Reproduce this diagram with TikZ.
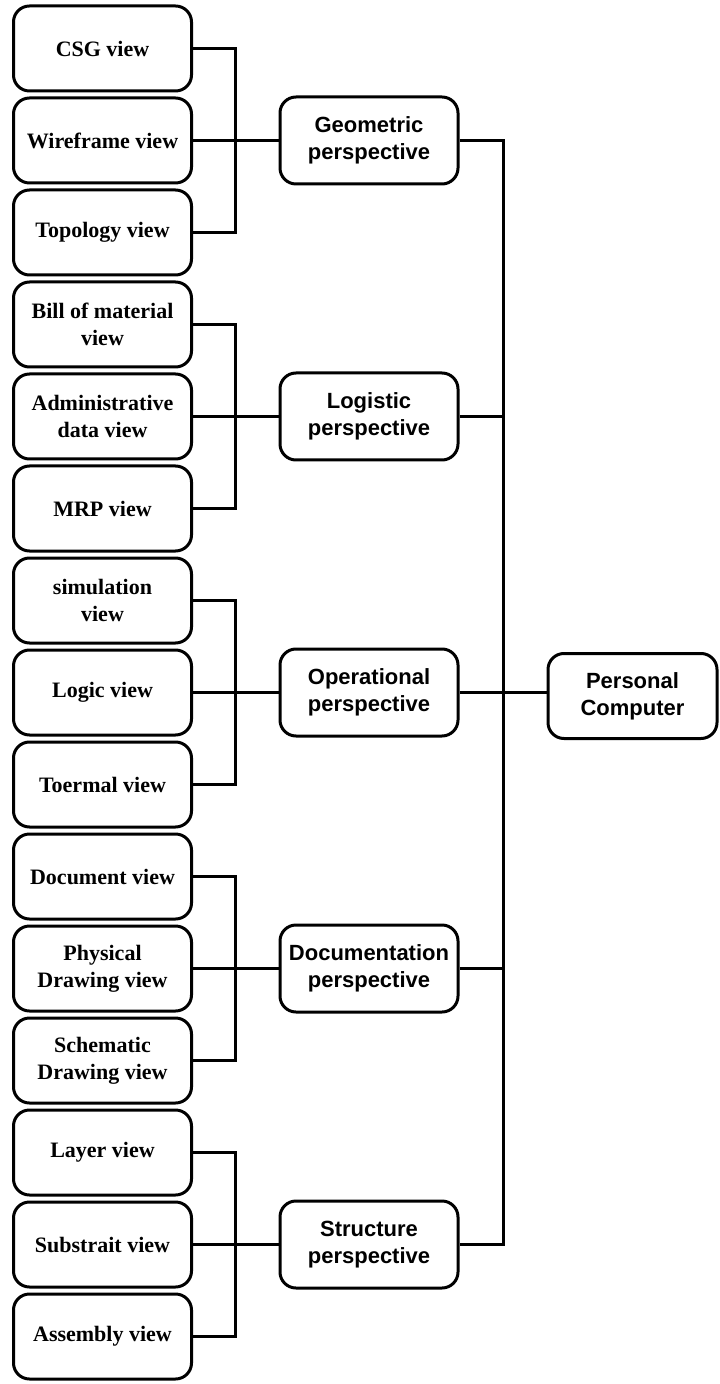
\documentclass[tikz,border=0pt]{standalone}
\usepackage{fontspec}
\setmainfont{Liberation Serif}
\newfontfamily\perspfont{Liberation Sans}
\usetikzlibrary{calc}
\tikzstyle{view}=[draw,rounded corners=8pt,line width=1.5pt,minimum width=89pt,minimum height=42.5pt,inner sep=1pt,align=center,font=\bfseries\fontsize{11}{13.5}\selectfont]
\tikzstyle{persp}=[view,minimum height=43.5pt,font=\perspfont\bfseries\fontsize{11}{13.5}\selectfont]
\tikzstyle{edge}=[draw,line width=1.5pt]

\begin{document}
\begin{tikzpicture}[x=0.5pt,y=-0.5pt]
\useasboundingbox (0,0) rectangle (719,1384);
% the fifteen views, top to bottom
\path (102.5,48.5) node[view] (A1) {CSG view}
    ++ (0,92) node[view] (A2) {Wireframe view}
    ++ (0,92) node[view] (A3) {Topology view}
    ++ (0,92) node[view] (B1) {Bill of material\\view}
    ++ (0,92) node[view] (B2) {Administrative\\data view}
    ++ (0,92) node[view] (B3) {MRP view}
    ++ (0,92) node[view] (C1) {simulation\\view}
    ++ (0,92) node[view] (C2) {Logic view}
    ++ (0,92) node[view] (C3) {Toermal view}
    ++ (0,92) node[view] (D1) {Document view}
    ++ (0,92) node[view] (D2) {Physical\\Drawing view}
    ++ (0,92) node[view] (D3) {Schematic\\Drawing view}
    ++ (0,92) node[view] (E1) {Layer view}
    ++ (0,92) node[view] (E2) {Substrait view}
    ++ (0,92) node[view] (E3) {Assembly view}
    ;
% the perspectives
\path (369,140.5) node[persp] (G) {Geometric\\perspective}
    ++ (0,276) node[persp] (L) {Logistic\\perspective}
    ++ (0,276) node[persp] (O) {Operational\\perspective}
    ++ (0,276) node[persp] (D) {Documentation\\perspective}
    ++ (0,276) node[persp] (S) {Structure\\perspective}
    ;
\node[persp,minimum width=84.5pt,minimum height=42.5pt] (PC) at (632.5,696) {Personal\\Computer};

% views to perspectives
\coordinate (a) at ($(A2.east)!0.5!(G.west)$);
\coordinate (b) at ($(B2.east)!0.5!(L.west)$);
\coordinate (c) at ($(C2.east)!0.5!(O.west)$);
\coordinate (d) at ($(D2.east)!0.5!(D.west)$);
\coordinate (e) at ($(E2.east)!0.5!(S.west)$);
\draw[edge] (A1.east) -| (a) |- (A3.east);
\draw[edge] (A2.east) -- (G.west);
\draw[edge] (B1.east) -| (b) |- (B3.east);
\draw[edge] (B2.east) -- (L.west);
\draw[edge] (C1.east) -| (c) |- (C3.east);
\draw[edge] (C2.east) -- (O.west);
\draw[edge] (D1.east) -| (d) |- (D3.east);
\draw[edge] (D2.east) -- (D.west);
\draw[edge] (E1.east) -| (e) |- (E3.east);
\draw[edge] (E2.east) -- (S.west);

% perspectives to the computer
\coordinate (hub) at ($(O.east)!0.5!(O.east -| PC.west)$);
\draw[edge] (G.east) -| (hub) |- (S.east);
\draw[edge] (L.east) -- (L.east -| hub);
\draw[edge] (D.east) -- (D.east -| hub);
\draw[edge] (O.east) -- (O.east -| PC.west);
\end{tikzpicture}
\end{document}
